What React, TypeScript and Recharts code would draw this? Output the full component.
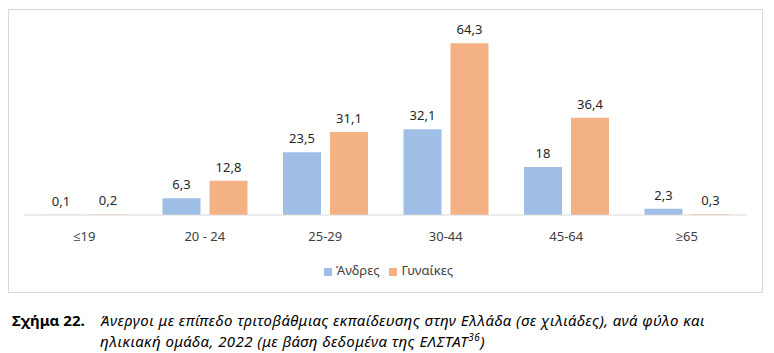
import React from 'react';
import { BarChart, Bar, XAxis, YAxis, Legend, LabelList } from 'recharts';

const categories = ['≤19', '20 - 24', '25-29', '30-44', '45-64', '≥65'];
const andres = [0.1, 6.3, 23.5, 32.1, 18, 2.3];
const gynaikes = [0.2, 12.8, 31.1, 64.3, 36.4, 0.3];
const seriesNames = ['Άνδρες', 'Γυναίκες'];
const captionLabel = 'Σχήμα 22.';
const captionLine1 = 'Άνεργοι με επίπεδο τριτοβάθμιας εκπαίδευσης στην Ελλάδα (σε χιλιάδες), ανά φύλο και';
const captionLine2 = 'ηλικιακή ομάδα, 2022 (με βάση δεδομένα της ΕΛΣΤΑΤ';
const captionSup = '36';

const data = categories.map((c, i) => ({ cat: c, a: andres[i], g: gynaikes[i] }));

const FONT = "'Noto Sans', 'Open Sans', sans-serif";
const fmt = (v: any) => String(v).replace('.', ',');

export default function App() {
  return (
    <div style={{ position: 'fixed', left: 0, top: 0, width: 774, height: 353, background: '#fff', fontFamily: FONT }}>
      <div style={{ position: 'absolute', left: 8, top: 9, width: 755, height: 284, border: '1px solid #d9d9d9', boxSizing: 'border-box' }}>
        <BarChart
          width={753}
          height={282}
          data={data}
          margin={{ top: 18, right: 15, left: 15, bottom: 12 }}
          barGap={9}
          barSize={38}
        >
          <XAxis
            dataKey="cat"
            axisLine={{ stroke: '#d9d9d9' }}
            tickLine={false}
            tickMargin={11}
            height={45}
            tick={{ fill: '#404040', fontSize: 13, fontFamily: FONT }}
            interval={0}
          />
          <YAxis hide domain={[0, 70]} />
          <Legend
            verticalAlign="bottom"
            align="center"
            iconType="square"
            iconSize={8}
            wrapperStyle={{ fontSize: 13, fontFamily: FONT, color: '#404040', height: 20, lineHeight: '20px', paddingLeft: 8 }}
            formatter={(v: any) => <span style={{ color: '#404040' }}>{v}</span>}
          />
          <Bar dataKey="a" name={seriesNames[0]} fill="#9fbfe6" isAnimationActive={false}>
            <LabelList dataKey="a" position="top" offset={9} formatter={fmt} style={{ fill: '#262626', fontSize: 13, fontFamily: FONT }} />
          </Bar>
          <Bar dataKey="g" name={seriesNames[1]} fill="#f4b183" isAnimationActive={false}>
            <LabelList dataKey="g" position="top" offset={9} formatter={fmt} style={{ fill: '#262626', fontSize: 13, fontFamily: FONT }} />
          </Bar>
        </BarChart>
      </div>
      <div style={{ position: 'absolute', left: 12, top: 310, fontSize: 15, fontWeight: 700, color: '#000', lineHeight: '20px' }}>{captionLabel}</div>
      <div style={{ position: 'absolute', left: 100, top: 310, fontSize: 15, letterSpacing: 0.45, fontStyle: 'italic', color: '#000', lineHeight: '21px', whiteSpace: 'nowrap' }}>
        <div>{captionLine1}</div>
        <div>{captionLine2}<sup style={{ fontSize: 10, lineHeight: 0 }}>{captionSup}</sup>)</div>
      </div>
    </div>
  );
}
